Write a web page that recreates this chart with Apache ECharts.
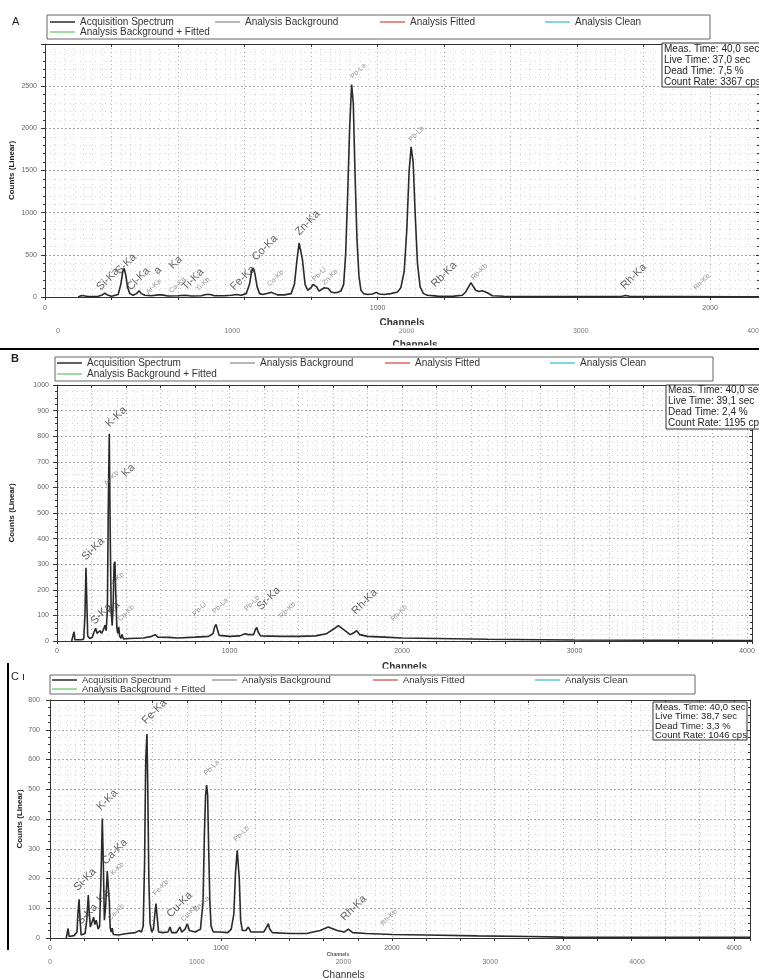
<!DOCTYPE html>
<html><head><meta charset="utf-8">
<script src="https://cdn.jsdelivr.net/npm/echarts@6/dist/echarts.min.js"></script>
<style>html,body{margin:0;padding:0;background:#fff}#c{width:759px;height:979px}</style>
</head><body><div id="c"></div><script>
// ---------- DATA ----------
const seriesNames = ['Acquisition Spectrum','Analysis Background','Analysis Fitted','Analysis Clean','Analysis Background + Fitted'];
const seriesColors = ['#2a2a2a','#a0a0a0','#e06464','#5cc6d8','#7fd07f'];

// Panel A spectrum (channel, counts)
const chA  = [100,110,116,130,160,172,180,188,200,220,228,234,238,243,248,255,265,275,283,290,300,320,340,345,352,370,400,420,440,470,484,490,497,510,540,560,576,590,605,615,621,626,631,638,645,655,670,680,690,700,720,740,750,758,764,769,774,782,790,800,806,811,817,824,830,840,846,852,860,870,880,890,898,904,910,916,922,927,932,938,944,950,958,970,985,996,1005,1020,1040,1060,1070,1080,1088,1095,1101,1107,1113,1120,1128,1138,1150,1180,1200,1230,1255,1265,1275,1281,1287,1295,1305,1315,1321,1330,1345,1380,1500,1700,1735,1747,1760,1900,2100,2150];
const cntA = [0,18,5,5,8,25,45,25,10,30,150,300,340,260,120,40,20,40,75,40,20,15,25,45,25,12,15,20,12,15,30,42,30,15,15,20,30,20,40,150,300,345,280,120,40,30,45,55,40,25,25,40,150,450,640,620,450,150,80,110,150,165,120,70,80,110,130,100,60,50,55,70,150,500,1200,2000,2520,2300,1500,700,250,80,40,30,35,55,35,30,40,60,110,300,800,1500,1780,1600,1000,400,120,40,20,10,8,10,20,60,130,170,130,80,65,75,78,50,15,8,6,5,8,18,6,4,3,3];

// Panel B spectrum
const chB  = [85,92,99,104,140,155,162,168,173,178,190,205,215,224,232,240,249,258,270,278,285,292,297,303,308,314,320,326,331,336,341,347,352,358,363,370,377,385,420,500,550,568,585,650,700,800,880,905,914,922,930,940,1000,1060,1090,1100,1110,1140,1150,1158,1166,1180,1300,1400,1500,1560,1600,1631,1660,1700,1720,1737,1755,1800,1900,2000,2200,2500,2800,3000,3500,4000,4029];
const cntB = [0,5,36,5,5,8,100,286,150,20,10,15,35,50,30,35,40,30,45,62,40,120,500,810,450,120,60,150,300,310,180,50,30,55,20,10,25,8,10,12,18,25,15,14,12,15,18,30,55,65,45,22,18,20,28,35,25,25,45,53,35,20,18,18,20,28,45,60,45,25,32,40,25,18,15,12,10,7,5,4,3,2,2];

// Panel C spectrum
const chC  = [95,100,106,112,140,158,163,170,176,182,190,205,215,224,230,236,245,255,262,270,282,290,298,306,312,318,326,335,341,347,352,358,364,370,400,450,500,520,535,545,553,560,567,572,578,585,595,605,613,620,627,635,660,690,702,712,740,752,760,770,790,803,815,850,880,895,903,910,916,922,928,935,942,955,990,1040,1060,1075,1085,1095,1100,1107,1115,1125,1145,1160,1175,1250,1270,1277,1285,1300,1400,1500,1580,1627,1680,1720,1745,1770,1850,2000,2200,2500,2800,3000,3500,4000,4094];
const cntC = [0,5,32,5,8,20,80,130,60,10,8,15,60,144,80,37,40,70,45,60,30,40,200,402,250,60,110,225,228,120,35,20,33,12,10,15,18,25,20,40,250,600,686,500,200,50,20,30,80,116,70,20,18,20,37,18,18,30,37,20,30,48,25,20,30,120,350,480,514,480,300,120,40,20,20,18,30,80,220,295,290,200,60,25,25,37,20,20,40,48,30,18,15,15,25,37,25,20,30,18,15,12,10,7,5,3,2,2,2];

// Peak labels: [text, channel, counts]
const majorLabelsA = [['Si-Ka',174,47],['S-Ka',231,236],['Cl-Ka',265,47],['a',346,236],['Ka',392,300],['Ti-Ka',431,47],['Fe-Ka',576,47],['Co-Ka',641,400],['Zn-Ka',771,700],['Rb-Ka',1180,83],['Rh-Ka',1750,60]];
const minorLabelsA = [['Ar-Ka',316,12],['Ca-Ka',386,24],['Ti-Kb',467,47],['Co-Kb',681,105],['Pb-Ll',816,165],['Zn-Kb',846,120],['Pb-La',931,2565],['Pb-Lb',1106,1820],['Rb-Kb',1294,180],['Rh-Kb',1963,60]];
const majorLabelsB = [['Si-Ka',180,305],['K-Ka',319,824],['Ka',412,630],['S-Ka',232,55],['Ka',325,93],['Sr-Ka',1196,110],['Rh-Ka',1745,93]];
const minorLabelsB = [['Ar-Kb',296,600],['K-Kb',336,210],['Ca-Kb',377,70],['Pb-Ll',810,90],['Pb-La',925,100],['Pb-Lb',1110,110],['Rb-Kb',1312,82],['Rh-Kb',1960,70]];
const majorLabelsC = [['Si-Ka',175,150],['S-Ka',193,36],['Ka',310,110],['K-Ka',310,420],['Ca-Ka',339,238],['Fe-Ka',575,710],['Cu-Ka',719,60],['Rh-Ka',1737,49]];
const minorLabelsC = [['K-Kb',380,204],['Ca-Kb',363,53],['Fe-Kb',626,137],['Cu-Kb',790,49],['Zn-Ka',865,82],['Pb-La',924,540],['Pb-Lb',1099,318],['Rh-Kb',1959,36]];

const infoA = ['Meas. Time: 40,0 sec','Live Time: 37,0 sec','Dead Time: 7,5 %','Count Rate: 3367 cps'];
const infoB = ['Meas. Time: 40,0 sec','Live Time: 39,1 sec','Dead Time: 2,4 %','Count Rate: 1195 cps'];
const infoC = ['Meas. Time: 40,0 sec','Live Time: 38,7 sec','Dead Time: 3,3 %','Count Rate: 1046 cps'];
const panelLetters = ['A','B','C'];
const xTitle = 'Channels';
const yTitle = 'Counts (Linear)';

// ---------- BUILD ----------
const FF = 'Liberation Sans';
const pairs = (ch, cnt) => ch.map((c, i) => [c, cnt[i]]);

function xBottom(gi, max, minorN, margin, name, nameGap) {
  return {type:'value', gridIndex:gi, min:0, max:max, interval:200, position:'bottom',
    axisLine:{show:true, onZero:false, lineStyle:{color:'#333', width:1}},
    axisTick:{show:true, length:3, lineStyle:{color:'#333'}},
    axisLabel:{show:true, margin:margin, fontSize:7, color:'#666', fontFamily:FF,
      formatter: v => (v % 1000 === 0 ? String(v) : '')},
    splitLine:{show:true, lineStyle:{color:'#b0b0b0', type:[1,3]}},
    minorTick:{show:false, splitNumber:minorN},
    minorSplitLine:{show:true, lineStyle:{color:'#d4d4d4', type:[1,4]}},
    name:name, nameLocation:'middle', nameGap:nameGap, nameMoveOverlap:false,
    nameTextStyle:{fontSize:10, fontWeight:'bold', color:'#333', fontFamily:FF}};
}
function xTop(gi, max) {
  return {type:'value', gridIndex:gi, min:0, max:max, interval:200, position:'top',
    axisLine:{show:true, onZero:false, lineStyle:{color:'#333', width:1}},
    axisTick:{show:true, inside:true, length:3, lineStyle:{color:'#333'}},
    axisLabel:{show:false}, splitLine:{show:false}};
}
function yLeft(gi, max, interval, minorN, margin, nameGap, hideMax) {
  return {type:'value', gridIndex:gi, min:0, max:max, interval:interval, position:'left',
    axisLine:{show:true, onZero:false, lineStyle:{color:'#333', width:1}},
    axisTick:{show:true, length:4, lineStyle:{color:'#333'}},
    minorTick:{show:true, splitNumber:minorN, length:2, lineStyle:{color:'#333'}},
    axisLabel:{show:true, margin:margin, fontSize:7, color:'#666', fontFamily:FF,
      formatter: v => (hideMax && v === max ? '' : String(v))},
    splitLine:{show:true, lineStyle:{color:'#a8a8a8', type:[2,2]}},
    minorSplitLine:{show:true, lineStyle:{color:'#d4d4d4', type:[1,4]}},
    name:yTitle, nameLocation:'middle', nameGap:nameGap, nameRotate:90, nameMoveOverlap:false,
    nameTextStyle:{fontSize:8, fontWeight:'bold', color:'#222', fontFamily:FF}};
}
function yRight(gi, max, interval, minorN) {
  return {type:'value', gridIndex:gi, min:0, max:max, interval:interval, position:'right',
    axisLine:{show:true, onZero:false, lineStyle:{color:'#333', width:1}},
    axisTick:{show:true, inside:true, length:3, lineStyle:{color:'#333'}},
    minorTick:{show:true, splitNumber:minorN, length:2, lineStyle:{color:'#333'}},
    axisLabel:{show:false}, splitLine:{show:false}};
}
function xStray(gi, margin, name, nameGap) {
  return {type:'value', gridIndex:gi, min:0, max:4000, interval:1000, position:'bottom',
    axisLine:{show:false}, axisTick:{show:false}, splitLine:{show:false},
    axisLabel:{show:true, margin:margin, fontSize:7, color:'#777', fontFamily:FF, formatter: v => String(v)},
    name:name, nameLocation:'middle', nameGap:nameGap, nameMoveOverlap:false,
    nameTextStyle:{fontSize:10, color:'#333', fontFamily:FF}};
}
function yHidden(gi) {
  return {type:'value', gridIndex:gi, min:0, max:1, show:false};
}
function specSeries(ch, cnt, xi, yi) {
  return {type:'line', name:seriesNames[0], xAxisIndex:xi, yAxisIndex:yi, data:pairs(ch, cnt),
    showSymbol:false, symbol:'none', lineStyle:{color:seriesColors[0], width:1.6}, color:seriesColors[0],
    silent:true, z:3, animation:false};
}
function labelSeries(items, xi, yi, fs, color) {
  return {type:'scatter', xAxisIndex:xi, yAxisIndex:yi, symbolSize:1, silent:true, z:6,
    itemStyle:{color:'rgba(0,0,0,0)'}, animation:false,
    data: items.map(d => ({name:d[0], value:[d[1], d[2]]})),
    label:{show:true, formatter:'{b}', position:[0,0], align:'left', verticalAlign:'bottom',
      rotate:45, fontSize:fs, color:color, fontFamily:FF}};
}
function mkLegend(name, left, top, fs) {
  return {data:[name], left:left, top:top, icon:'rect', itemWidth:25, itemHeight:1.5,
    padding:0, selectedMode:false, textStyle:{fontSize:fs, color:'#333', fontFamily:FF}};
}
function legendsFor(lefts, row1, row2, fs) {
  return [
    mkLegend(seriesNames[0], lefts[0], row1 - 6, fs),
    mkLegend(seriesNames[1], lefts[1], row1 - 6, fs),
    mkLegend(seriesNames[2], lefts[2], row1 - 6, fs),
    mkLegend(seriesNames[3], lefts[3], row1 - 6, fs),
    mkLegend(seriesNames[4], lefts[0], row2 - 6, fs)
  ];
}
function infoBox(x, y, w, h, lines, ys, fs) {
  const els = [{type:'rect', shape:{x:x, y:y, width:w, height:h}, style:{fill:'#fff', stroke:'#333', lineWidth:1}, z:50}];
  lines.forEach((t, i) => els.push({type:'text', x:x + 2, y:ys[i], z:51,
    style:{text:t, fontSize:fs, fill:'#222', fontFamily:FF, verticalAlign:'middle'}}));
  return els;
}
function box(x, y, w, h) {
  return {type:'rect', shape:{x:x, y:y, width:w, height:h}, style:{fill:'none', stroke:'#666', lineWidth:1}, z:40};
}
function mkGrid(left, top, width, height) {
  return {left:left, top:top, width:width, height:height, containLabel:false, outerBoundsMode:'none'};
}

const option = {
  backgroundColor:'#fff',
  animation:false,
  grid:[
    mkGrid(45, 44, 714, 253),
    mkGrid(57, 385, 695, 256),
    mkGrid(50, 700, 700, 238),
    mkGrid(58, 318, 697, 1),
    mkGrid(50, 950, 587, 1)
  ],
  xAxis:[
    xBottom(0, 2147, 7, 8, xTitle, 21), xTop(0, 2147),
    xBottom(1, 4029, 4, 7, xTitle, 21), xTop(1, 4029),
    xBottom(2, 4094, 4, 7, '', 20), xTop(2, 4094),
    xStray(3, 9, '', 10),
    xStray(4, 8, xTitle, 19)
  ],
  yAxis:[
    yLeft(0, 3000, 500, 5, 8, 29, true), yRight(0, 3000, 500, 5),
    yLeft(1, 1000, 100, 4, 8, 41, false), yRight(1, 1000, 100, 4),
    yLeft(2, 800, 100, 4, 10, 26, false), yRight(2, 800, 100, 4),
    yHidden(3), yHidden(4)
  ],
  legend:[].concat(
    legendsFor([50, 215, 380, 545], 23, 33, 10),
    legendsFor([57, 230, 385, 550], 364, 375, 10),
    legendsFor([52, 212, 373, 535], 681, 690, 9.5)
  ),
  series:[
    specSeries(chA, cntA, 0, 0),
    specSeries(chB, cntB, 2, 2),
    specSeries(chC, cntC, 4, 4),
    {type:'line', name:seriesNames[1], xAxisIndex:0, yAxisIndex:0, data:[], color:seriesColors[1], lineStyle:{color:seriesColors[1]}},
    {type:'line', name:seriesNames[2], xAxisIndex:0, yAxisIndex:0, data:[], color:seriesColors[2], lineStyle:{color:seriesColors[2]}},
    {type:'line', name:seriesNames[3], xAxisIndex:0, yAxisIndex:0, data:[], color:seriesColors[3], lineStyle:{color:seriesColors[3]}},
    {type:'line', name:seriesNames[4], xAxisIndex:0, yAxisIndex:0, data:[], color:seriesColors[4], lineStyle:{color:seriesColors[4]}},
    labelSeries(majorLabelsA, 0, 0, 11, '#3a3a3a'),
    labelSeries(minorLabelsA, 0, 0, 7, '#777'),
    labelSeries(majorLabelsB, 2, 2, 11, '#3a3a3a'),
    labelSeries(minorLabelsB, 2, 2, 7, '#777'),
    labelSeries(majorLabelsC, 4, 4, 11, '#3a3a3a'),
    labelSeries(minorLabelsC, 4, 4, 7, '#777')
  ],
  graphic:{elements:[].concat(
    [box(47, 15, 663, 24), box(55, 357, 658, 24), box(50, 675, 645, 19)],
    infoBox(662, 43, 100, 44, infoA, [49, 60, 71, 82], 10),
    infoBox(666, 385, 95, 44, infoB, [390, 401, 412, 423], 10),
    infoBox(653, 702, 94, 38, infoC, [707, 716, 726, 735], 9.5),
    [
      {type:'text', x:12, y:22, z:60, style:{text:panelLetters[0], fontSize:11, fill:'#222', fontFamily:FF, verticalAlign:'middle'}},
      {type:'text', x:11, y:359, z:60, style:{text:panelLetters[1], fontSize:11, fontWeight:'bold', fill:'#222', fontFamily:FF, verticalAlign:'middle'}},
      {type:'text', x:11, y:677, z:60, style:{text:panelLetters[2] + ' \u0131', fontSize:11, fill:'#222', fontFamily:FF, verticalAlign:'middle'}},
      {type:'rect', shape:{x:375, y:325, width:60, height:3.5}, style:{fill:'#fff'}, z:70},
      {type:'text', x:415, y:345, z:60, style:{text:xTitle, fontSize:10, fontWeight:'bold', fill:'#333', fontFamily:FF, align:'center', verticalAlign:'middle'}},
      {type:'rect', shape:{x:385, y:345.5, width:60, height:3}, style:{fill:'#fff'}, z:70},
      {type:'rect', shape:{x:380, y:668.5, width:60, height:5}, style:{fill:'#fff'}, z:70},
      {type:'text', x:338, y:955, z:60, style:{text:xTitle, fontSize:5, fontWeight:'bold', fill:'#555', fontFamily:FF, align:'center', verticalAlign:'middle'}},
      {type:'line', shape:{x1:0, y1:349, x2:759, y2:349}, style:{stroke:'#000', lineWidth:2}, z:80},
      {type:'line', shape:{x1:8, y1:663, x2:8, y2:950}, style:{stroke:'#000', lineWidth:2}, z:80}
    ]
  )}
};
const chart = echarts.init(document.getElementById('c'), null, {renderer:'canvas'});
chart.setOption(option);
</script></body></html>
